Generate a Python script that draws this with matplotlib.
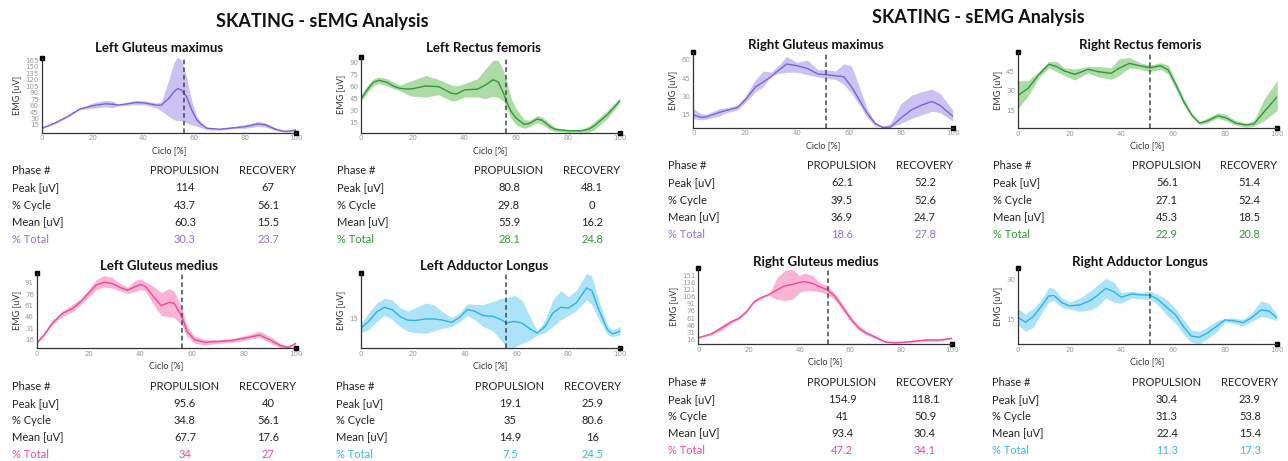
import matplotlib
matplotlib.use("Agg")
import matplotlib.pyplot as plt
import numpy as np

plt.rcParams['font.family'] = ['Lato', 'DejaVu Sans']

# ---------------- data ----------------
# Left Gluteus maximus
lgmax_x = [0, 5, 10, 15, 20, 25, 28, 30, 33, 37, 40, 45, 47, 50, 52, 53.5, 55, 57, 59, 61, 63, 65, 70, 75, 80, 85, 88, 92, 95, 97, 100]
lgmax_mean = [7.3, 18.8, 34, 52, 59.6, 64, 63, 61, 63.5, 67, 66.5, 61, 61, 76.5, 92, 99.6, 95.8, 80, 49.6, 26.5, 15, 7.3, 5, 8, 11, 17.3, 15, 5, 0.5, 0.5, 3.5]
lgmax_hi = [8, 20, 36, 53, 66, 72, 70, 63, 67, 72, 71, 66, 68, 120, 160, 172, 165, 125, 70, 35, 20, 10, 7, 11, 16, 23, 20, 8, 2, 1, 5]
lgmax_lo = [6, 17, 32, 50, 54, 57, 55, 59, 60, 62, 62, 55, 48, 35, 27, 25, 25, 20, 15, 12, 8, 4, 3, 6, 7, 12, 10, 2, -1, -2, 2]
lgmax_stats = [["114", "67"], ["43.7", "56.1"], ["60.3", "15.5"], ["30.3", "23.7"]]

# Left Rectus femoris
lrf_x = [0, 3, 5, 7, 10, 13, 15, 18, 20, 25, 30, 35, 37, 40, 45, 48, 51, 53, 55, 56, 58, 60, 63, 65, 68, 70, 73, 75, 80, 85, 88, 90, 95, 100]
lrf_mean = [44.6, 58.8, 66, 68, 65.4, 60, 58, 57, 57.5, 61, 60, 51.7, 51, 56, 57, 62, 68.7, 66, 52, 43, 28.7, 20.4, 13, 14, 19.6, 18, 10, 6.7, 5, 5, 7, 11, 24.6, 42.5]
lrf_hi = [50, 64, 70, 72, 70, 65, 62, 66, 68, 74, 69, 62, 61, 64, 70, 82, 93, 93, 80, 70, 45, 32, 19, 18, 24, 22, 14, 9, 6, 6, 11, 16, 30, 46]
lrf_lo = [42, 55, 62, 64, 61, 57, 55, 50, 48, 47, 50, 42, 43, 47, 47, 45, 48, 46, 42, 35, 20, 12, 8, 10, 15, 13, 6, 4, 3, 3, 3, 6, 20, 40]
lrf_stats = [["80.8", "48.1"], ["29.8", "0"], ["55.9", "16.2"], ["28.1", "24.8"]]

# Right Gluteus maximus
rgmax_x = [0, 3, 5, 10, 13, 17, 20, 24, 27, 30, 33, 36, 40, 44, 48, 51, 55, 58, 61, 64, 67, 70, 73, 76, 80, 84, 88, 92, 95, 100]
rgmax_mean = [15, 13, 13.4, 17, 18.8, 21, 27.3, 38, 42, 46.3, 51.8, 56.7, 55.3, 53, 48.5, 48, 47, 46.3, 38, 27.3, 16.4, 8.2, 4.8, 5, 12.3, 19, 23, 26, 23, 14]
rgmax_hi = [20, 16, 15.5, 20, 21, 23, 30, 44, 51, 50, 56, 63, 58, 60, 52, 52, 51, 57, 55, 38, 20, 9, 5, 8, 24, 31, 34, 36, 33, 19]
rgmax_lo = [12, 11, 11.5, 14, 17, 19, 25, 34, 38, 47, 49, 50, 50, 48, 46, 45, 44, 40, 33, 23, 13, 6, 4.6, 4.8, 8, 12, 15, 18, 17, 10]
rgmax_stats = [["62.1", "52.2"], ["39.5", "52.6"], ["36.9", "24.7"], ["18.6", "27.8"]]

# Right Rectus femoris
rrf_x = [0, 4, 8, 12, 15, 18, 22, 27, 31, 36, 39, 43, 47, 51, 55, 58, 61, 64, 67, 70, 73, 77, 80, 84, 88, 91, 95, 100]
rrf_mean = [26.4, 32, 42.4, 50.7, 48.9, 45.5, 42.9, 46.8, 45, 43.7, 47.6, 51.4, 49.6, 48, 49.6, 46.3, 34.6, 21.7, 11.4, 5, 6.7, 10.6, 9.3, 5, 3.6, 4.4, 14, 25.6]
rrf_hi = [38, 38, 45, 53, 53, 48, 47, 49, 49, 48, 55, 56, 52, 50, 52, 50, 37, 24, 13, 6, 9, 13, 12, 7, 5, 7, 24, 38]
rrf_lo = [16, 26, 40, 48, 45, 42, 38.5, 44, 41, 39, 42, 48, 47, 45, 47, 43, 31, 19, 10, 4, 5, 9, 7, 3.5, 2, 2.5, 7, 15]
rrf_stats = [["56.1", "51.4"], ["27.1", "52.4"], ["45.3", "18.5"], ["22.9", "20.8"]]

# Left Gluteus medius
lgmed_x = [0, 3, 6, 10, 14, 17, 20, 23, 26, 29, 32, 35, 38, 40, 42, 45, 48, 51, 53, 56, 58, 61, 65, 70, 75, 80, 86, 90, 94, 97, 100]
lgmed_mean = [11.2, 23, 37.5, 50.6, 57.2, 66, 77, 88, 91.4, 90, 84.9, 81, 85.7, 88.8, 85.7, 72.6, 60.7, 65, 63.8, 46.3, 26.5, 15.6, 12.5, 13.4, 14.7, 17.8, 22, 15.6, 8, 5.5, 11.2]
lgmed_hi = [12, 25, 40, 54, 63, 70, 82, 95, 100, 98, 90, 85, 94, 96, 92, 86, 78, 83, 80, 58, 33, 20, 16, 16, 17, 21, 27, 20, 11, 7, 12]
lgmed_lo = [10, 21, 35, 47, 53, 62, 72, 82, 85, 84, 80, 77, 79, 82, 80, 62, 48, 46, 45, 35, 20, 11, 9, 11, 12, 15, 19, 12, 5, 4.6, 10]
lgmed_stats = [["95.6", "40"], ["34.8", "56.1"], ["67.7", "17.6"], ["34", "27"]]

# Left Adductor Longus
lal_x = [0, 3, 6, 9, 12, 15, 18, 21, 25, 28, 31, 35, 38, 41, 44, 47, 51, 54, 56, 59, 62, 65, 68, 71, 74, 77, 80, 83, 87, 89, 92, 95, 97, 100]
lal_mean = [12, 14.1, 17.1, 18.6, 17.9, 15.7, 14.5, 14.4, 14.9, 14.9, 14.6, 13.8, 15.4, 17.9, 17.3, 16, 15.7, 14.7, 13.6, 14.1, 13.6, 11.8, 10.4, 12.5, 16.8, 18.6, 18.4, 20, 24.8, 24, 17.3, 11.5, 10.1, 11]
lal_hi = [13.5, 17, 20, 21.5, 21, 18.5, 17.5, 18.5, 20, 19.5, 17.5, 15.3, 16.8, 19.8, 19.5, 19.5, 20.5, 21.5, 21.5, 22.5, 21, 16, 11, 14.5, 21, 24, 22, 24, 29.5, 28.5, 20, 13, 11.3, 12.5]
lal_lo = [10.5, 11.5, 14, 16, 14.8, 12.5, 11, 10.5, 10.3, 11, 11.8, 12.5, 14, 16, 14.5, 12.5, 11, 8, 6, 5.8, 7, 8, 9.8, 10.5, 12.5, 14.5, 16, 17.5, 21, 19.5, 14.3, 10, 9.2, 9.8]
lal_stats = [["19.1", "25.9"], ["35", "80.6"], ["14.9", "16"], ["7.5", "24.5"]]

# Right Gluteus medius
rgmed_x = [0, 5, 10, 13, 16, 19, 22, 25, 28, 31, 34, 37, 40, 42, 45, 48, 51, 54, 57, 60, 63, 66, 70, 74, 78, 82, 86, 90, 95, 100]
rgmed_mean = [20, 27.8, 43, 53.6, 60.5, 74.5, 95.3, 104.4, 110.6, 119.7, 128, 131.5, 135.7, 137, 133.6, 126.6, 119.7, 105.8, 83.5, 60.5, 41.7, 30.6, 20.9, 11, 9.7, 11, 13.2, 15.3, 15.3, 18.8]
rgmed_hi = [21, 30, 49, 57, 63, 76, 97, 106, 112, 145, 160, 163, 150, 155, 150, 135, 128, 112, 90, 66, 47, 35, 24, 13, 11, 13, 15.5, 18, 17.5, 20]
rgmed_lo = [19, 25.5, 38, 50, 58, 72, 93, 102, 108, 100, 98, 100, 115, 118, 118, 116, 110, 99, 77, 55, 37, 27, 18, 9.5, 8.5, 9.5, 11, 12.5, 13, 17.5]
rgmed_stats = [["154.9", "118.1"], ["41", "50.9"], ["93.4", "30.4"], ["47.2", "34.1"]]

# Right Adductor Longus
ral_x = [0, 3, 6, 9, 12, 14, 17, 20, 24, 28, 31, 34, 37, 40, 44, 48, 51, 54, 58, 61, 64, 67, 70, 73, 77, 80, 83, 87, 90, 94, 97, 100]
ral_mean = [15.75, 13.9, 16, 19.75, 23.75, 23.9, 21.25, 20, 20.4, 22, 24.1, 26.6, 25.4, 23.25, 24.5, 24.1, 24.1, 22.5, 19.1, 16.6, 12.25, 8.75, 8.25, 9.75, 12.5, 14.75, 14.5, 13.75, 15.4, 18.5, 18.1, 15.6]
ral_hi = [19, 17, 19, 22, 27, 26.5, 23, 21.5, 23, 25.5, 28, 30.3, 29, 25, 25.5, 25, 25.5, 24.5, 22, 19, 15, 11, 10.5, 12, 14.5, 15.3, 15.5, 15, 17, 22, 21, 17]
ral_lo = [13, 10.5, 12, 17, 21.5, 22, 19.5, 18.8, 18, 18.5, 20, 23, 21.5, 21, 23, 22.5, 22.5, 20.5, 16, 13.5, 9.5, 6.5, 5.8, 7.5, 10.5, 14, 13.5, 12.5, 14, 16, 15.5, 14.5]
ral_stats = [["30.4", "23.9"], ["31.3", "53.8"], ["22.4", "15.4"], ["11.3", "17.3"]]

row_names = ["Peak [uV]", "% Cycle", "Mean [uV]", "% Total"]
x_ticks = [0, 20, 40, 60, 80, 100]

# ---------------- layout / style ----------------
W, H = 1288, 461
PURPLE = ("#7a63d6", "#cbc1f2", "#8c70e4")
GREEN = ("#2f9a3a", "#acdba5", "#2e9b2e")
PINK = ("#f0489a", "#f9b3d4", "#f04aa0")
CYAN = ("#2db3e6", "#ace3f8", "#35b9ea")

# name, x, mean, lo, hi, stats, colors, axes box px (l, r, top, bottom), ylim, yticks, cut, title px, table px (x0, xprop, xrec, y0)
panels = [
    ("Left Gluteus maximus", lgmax_x, lgmax_mean, lgmax_lo, lgmax_hi, lgmax_stats, PURPLE,
     (41.7, 296, 57.7, 132.7), (-3, 171), range(15, 166, 15), 56.1, (159, 48), (12, 185, 268, 170.7)),
    ("Left Rectus femoris", lrf_x, lrf_mean, lrf_lo, lrf_hi, lrf_stats, GREEN,
     (361, 620, 56.7, 132.7), (2.5, 97.5), range(15, 91, 15), 56.1, (483, 48), (337, 509, 592, 170.7)),
    ("Right Gluteus maximus", rgmax_x, rgmax_mean, rgmax_lo, rgmax_hi, rgmax_stats, PURPLE,
     (693.3, 952.7, 52.3, 127.7), (4.5, 66.3), range(15, 61, 15), 51.0, (816, 45), (668, 842, 925, 165.7)),
    ("Right Rectus femoris", rrf_x, rrf_mean, rrf_lo, rrf_hi, rrf_stats, GREEN,
     (1017.7, 1277.3, 51.7, 128.3), (1, 60.5), range(15, 46, 15), 51.0, (1140, 45), (993, 1167, 1249, 165.7)),
    ("Left Gluteus medius", lgmed_x, lgmed_mean, lgmed_lo, lgmed_hi, lgmed_stats, PINK,
     (36.7, 296, 273.3, 348.3), (4.5, 103.3), range(16, 92, 15), 56.1, (159, 266.5), (12, 185, 268, 386)),
    ("Left Adductor Longus", lal_x, lal_mean, lal_lo, lal_hi, lal_stats, CYAN,
     (361, 620.3, 273.3, 348.3), (5.5, 29.5), [15], 56.1, (484, 266.5), (336, 510, 593, 386)),
    ("Right Gluteus medius", rgmed_x, rgmed_mean, rgmed_lo, rgmed_hi, rgmed_stats, PINK,
     (698.3, 951.7, 268.3, 344), (7, 165), range(16, 152, 15), 51.0, (816, 261.5), (668, 842, 925, 382)),
    ("Right Adductor Longus", ral_x, ral_mean, ral_lo, ral_hi, ral_stats, CYAN,
     (1017.7, 1276.7, 268.3, 344), (5.75, 34.1), [15, 30], 51.0, (1140, 261.5), (992, 1167, 1250, 382)),
]

fig = plt.figure(figsize=(W / 100, H / 100), dpi=100)


def ftext(px, py, s, **kw):
    fig.text(px / W, 1 - py / H, s, **kw)


ftext(322, 22, "SKATING - sEMG Analysis", ha="center", va="center", fontsize=13, fontweight="bold", color="#111")
ftext(978, 18, "SKATING - sEMG Analysis", ha="center", va="center", fontsize=13, fontweight="bold", color="#111")

for (name, x, mean, lo, hi, stats, cols, box, ylim, yticks, cut, tpos, tab) in panels:
    l, r, t, b = box
    ax = fig.add_axes([l / W, 1 - b / H, (r - l) / W, (b - t) / H])
    line_c, fill_c, txt_c = cols
    ax.fill_between(x, lo, hi, color=fill_c, lw=0)
    ax.plot(x, mean, color=line_c, lw=1.0)
    ax.axvline(cut, color="#444", ls=(0, (3, 2)), lw=1.1)
    ax.set_xlim(0, 100)
    ax.set_ylim(*ylim)
    ax.set_xticks(x_ticks)
    ax.set_yticks(list(yticks))
    for side in ("top", "right"):
        ax.spines[side].set_visible(False)
    for side in ("left", "bottom"):
        ax.spines[side].set_color("#333")
        ax.spines[side].set_linewidth(0.9)
    ax.tick_params(length=0, pad=2, labelsize=5, labelcolor="#999")
    for lab in ax.get_xticklabels() + ax.get_yticklabels():
        lab.set_family("DejaVu Sans")
    ax.set_xlabel("Ciclo [%]", fontsize=6.5, color="#333", labelpad=3)
    ax.set_ylabel("EMG [uV]", fontsize=6.5, color="#333", labelpad=3)
    ax.plot([0], [1], "s", ms=2.5, color="k", transform=ax.transAxes, clip_on=False)
    ax.plot([1], [0], "s", ms=2.5, color="k", transform=ax.transAxes, clip_on=False)

    ftext(tpos[0], tpos[1], name, ha="center", va="center", fontsize=9.5, fontweight="bold", color="#111")

    # stats table
    x0, xp, xr, y0 = tab
    dy = 17.2
    ftext(x0, y0, "Phase #", ha="left", va="center", fontsize=8, color="#222")
    ftext(xp, y0, "PROPULSION", ha="center", va="center", fontsize=8, color="#222")
    ftext(xr, y0, "RECOVERY", ha="center", va="center", fontsize=8, color="#222")
    for i, (rn, vals) in enumerate(zip(row_names, stats)):
        c = txt_c if rn == "% Total" else "#222"
        yy = y0 + dy * (i + 1)
        ftext(x0, yy, rn, ha="left", va="center", fontsize=8, color=c)
        ftext(xp, yy, vals[0], ha="center", va="center", fontsize=8, color=c)
        ftext(xr, yy, vals[1], ha="center", va="center", fontsize=8, color=c)

fig.savefig("out.png", dpi=100)
